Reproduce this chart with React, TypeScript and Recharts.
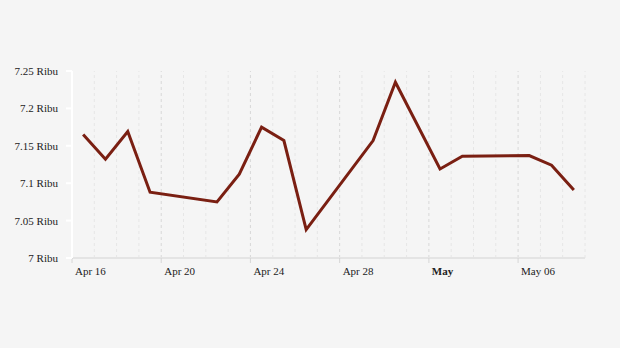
import React from "react";
import { LineChart, Line, XAxis, YAxis, ReferenceLine } from "recharts";

const startDate = "2024-04-16";
const dates = [
  "2024-04-16", "2024-04-17", "2024-04-18", "2024-04-19",
  "2024-04-22", "2024-04-23", "2024-04-24", "2024-04-25", "2024-04-26",
  "2024-04-29", "2024-04-30",
  "2024-05-02", "2024-05-03",
  "2024-05-06", "2024-05-07", "2024-05-08",
];
const values = [
  7165, 7132, 7169, 7088,
  7075, 7112, 7175, 7157, 7038,
  7157, 7235,
  7119, 7136,
  7137, 7124, 7091,
];
const yTicks = [7000, 7050, 7100, 7150, 7200, 7250];
const xTickDays = [0, 4, 8, 12, 16, 20];
const xTickLabels = ["Apr 16", "Apr 20", "Apr 24", "Apr 28", "May", "May 06"];
const gridDays = Array.from({ length: 24 }, (_, i) => i);

const DAY = 86400000;
const t0 = Date.parse(startDate + "T00:00:00Z");
// observations are stamped at noon of each trading day
const data = dates.map((d, i) => ({
  x: (Date.parse(d + "T12:00:00Z") - t0) / DAY,
  v: values[i],
}));

const FONT = "'Liberation Serif', 'Times New Roman', serif";

const XTick = (props: any) => {
  const { x, y, payload } = props;
  const idx = xTickDays.indexOf(payload.value);
  const label = idx >= 0 ? xTickLabels[idx] : "";
  return (
    <text
      x={x + 3}
      y={y + 2}
      dy="0.71em"
      textAnchor="start"
      fontFamily={FONT}
      fontSize={11}
      fill="#222"
      fontWeight={label === "May" ? "bold" : "normal"}
    >
      {label}
    </text>
  );
};

export default function App() {
  return (
    <div
      style={{
        position: "absolute",
        left: 0,
        top: 0,
        width: 620,
        height: 348,
        background: "#f5f5f5",
      }}
    >
      <LineChart
        width={620}
        height={348}
        data={data}
        margin={{ top: 71, right: 35, bottom: 60, left: 0 }}
      >
        <XAxis
          dataKey="x"
          type="number"
          domain={[0, 23]}
          ticks={xTickDays}
          tick={<XTick />}
          axisLine={{ stroke: "#e4e4e4", strokeWidth: 2 }}
          tickLine={{ stroke: "#d6d6d6" }}
          tickSize={5}
          height={30}
          interval={0}
        />
        <YAxis
          type="number"
          domain={[7000, 7250]}
          ticks={yTicks}
          width={72}
          axisLine={{ stroke: "#ffffff", strokeWidth: 2 }}
          tickLine={{ stroke: "#ffffff", strokeWidth: 2 }}
          tickSize={6}
          tickMargin={8}
          tick={{ fontFamily: FONT, fontSize: 11, fill: "#222" }}
          tickFormatter={(v: number) => `${v / 1000} Ribu`}
          interval={0}
        />
        {gridDays.map((d) => (
          <ReferenceLine
            key={d}
            x={d}
            stroke={d % 4 === 0 ? "#d8d8d8" : "#e6e6e6"}
            strokeDasharray="3 3"
            strokeWidth={1}
          />
        ))}
        <Line
          type="linear"
          dataKey="v"
          stroke="#7a1f12"
          strokeWidth={3}
          dot={false}
          activeDot={false}
          isAnimationActive={false}
        />
      </LineChart>
    </div>
  );
}
